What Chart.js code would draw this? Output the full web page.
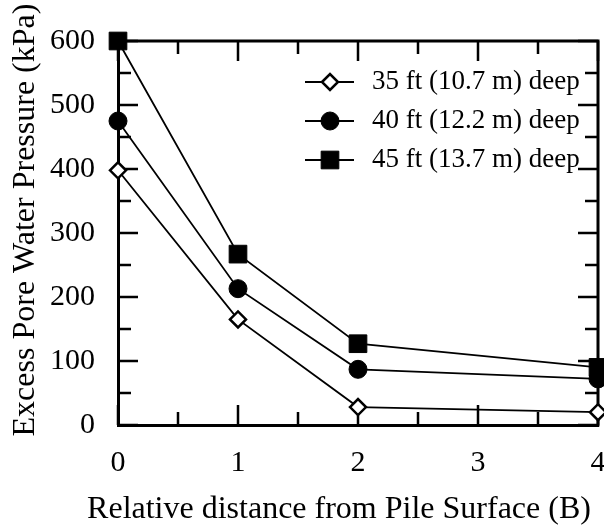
<!DOCTYPE html>
<html>
<head>
<meta charset="utf-8">
<script src="https://cdn.jsdelivr.net/npm/chart.js"></script>
<style>
  html, body { margin: 0; padding: 0; background: #fff; }
  #wrap { width: 604px; height: 527px; }
</style>
</head>
<body>
<div id="wrap"><canvas id="poreChart" width="604" height="527"></canvas></div>
<script>
// distance from pile surface, in pile diameters (B)
const distances = [0, 1, 2, 4];
// excess pore water pressure, kPa
const depth35 = [398, 165, 28, 20];
const depth40 = [475, 213, 87, 72];
const depth45 = [600, 267, 127, 90];

const seriesLabels = ['35 ft (10.7 m) deep', '40 ft (12.2 m) deep', '45 ft (13.7 m) deep'];
const xTicks = [0, 1, 2, 3, 4];
const yTicks = [0, 100, 200, 300, 400, 500, 600];
const xTitle = 'Relative distance from Pile Surface (B)';
const yTitle = 'Excess Pore Water Pressure (kPa)';

const serif = 'Liberation Serif, Times New Roman, serif';

function points(values){
    return distances.map((d, i) => ({x: d, y: values[i]}));
}

const styles = [
    {pointStyle: 'rectRot', radius: 8, bg: '#fff', bw: 2.5},
    {pointStyle: 'circle', radius: 9, bg: '#000', bw: 1},
    {pointStyle: 'rect', radius: 12.5, bg: '#000', bw: 1}
];

const datasets = [depth35, depth40, depth45].map((vals, i) => ({
    label: seriesLabels[i],
    data: points(vals),
    borderColor: '#000',
    borderWidth: 1.8,
    pointStyle: styles[i].pointStyle,
    pointRadius: styles[i].radius,
    pointBackgroundColor: styles[i].bg,
    pointBorderColor: '#000',
    pointBorderWidth: styles[i].bw,
    clip: false,
    order: 3 - i
}));

// inward ticks on all four sides, top/right frame lines and the axis titles
const frameTicks = {
    id: 'frameTicks',
    beforeDatasetsDraw(chart){
        const ctx = chart.ctx;
        const a = chart.chartArea;
        const xs = chart.scales.x, ys = chart.scales.y;
        ctx.save();
        ctx.strokeStyle = '#000';
        ctx.lineCap = 'butt';
        ctx.lineWidth = 3;
        ctx.beginPath();
        ctx.moveTo(a.left - 1.5, a.top);
        ctx.lineTo(a.right, a.top);
        ctx.lineTo(a.right, a.bottom + 1.5);
        ctx.stroke();

        ctx.lineWidth = 2.5;
        ctx.beginPath();
        for(let v = 0; v <= 600; v += 50){
            const len = v % 100 === 0 ? 20 : 13;
            const y = ys.getPixelForValue(v);
            ctx.moveTo(a.left, y); ctx.lineTo(a.left + len, y);
            ctx.moveTo(a.right, y); ctx.lineTo(a.right - len, y);
        }
        for(let v = 0; v <= 4; v += 0.5){
            const len = v % 1 === 0 ? 20 : 13;
            const x = xs.getPixelForValue(v);
            ctx.moveTo(x, a.bottom); ctx.lineTo(x, a.bottom - len);
            ctx.moveTo(x, a.top); ctx.lineTo(x, a.top + len);
        }
        ctx.stroke();

        ctx.fillStyle = '#000';
        ctx.textAlign = 'center';

        // horizontal title sits a bit left of the plot centre
        ctx.font = '32px ' + serif;
        ctx.textBaseline = 'alphabetic';
        ctx.fillText(xTitle, 339, 518);

        // vertical title, a little above the plot middle
        ctx.textBaseline = 'middle';
        ctx.translate(26, 220);
        ctx.rotate(-Math.PI / 2);
        ctx.fillText(yTitle, 0, 0);
        ctx.restore();
    }
};

// legend: short line with the marker on it, then the label
const lineLegend = {
    id: 'lineLegend',
    afterDraw(chart){
        const ctx = chart.ctx;
        const rows = [82, 121, 160];
        ctx.save();
        chart.data.datasets.forEach((ds, i) => {
            const y = rows[i];
            ctx.strokeStyle = '#000';
            ctx.lineWidth = 1.8;
            ctx.beginPath();
            ctx.moveTo(305, y); ctx.lineTo(354, y);
            ctx.stroke();
            ctx.fillStyle = ds.pointBackgroundColor;
            ctx.lineWidth = ds.pointBorderWidth;
            Chart.helpers.drawPoint(ctx, {
                pointStyle: ds.pointStyle,
                radius: ds.pointRadius,
                borderWidth: ds.pointBorderWidth,
                rotation: 0
            }, 330, y);
            ctx.fillStyle = '#000';
            ctx.font = '27px ' + serif;
            ctx.textAlign = 'left';
            ctx.textBaseline = 'alphabetic';
            ctx.fillText(ds.label, 372, y + 6.5);
        });
        ctx.restore();
    }
};

new Chart(document.getElementById('poreChart'), {
    type: 'line',
    data: {datasets: datasets},
    options: {
        responsive: false,
        animation: false,
        // markers at x = 4 run off the canvas edge, so no automatic padding
        layout: {autoPadding: false, padding: {top: 41, right: 6, left: 0, bottom: 0}},
        plugins: {legend: {display: false}, tooltip: {enabled: false}},
        scales: {
            x: {
                type: 'linear',
                min: 0,
                max: 4,
                afterBuildTicks: s => { s.ticks = xTicks.map(v => ({value: v})); },
                afterFit: s => { s.height = 102; s.paddingLeft = 0; s.paddingRight = 0; },
                ticks: {color: '#000', font: {family: serif, size: 30}, padding: 20, maxRotation: 0},
                grid: {drawOnChartArea: false, drawTicks: false},
                border: {display: true, color: '#000', width: 3}
            },
            y: {
                min: 0,
                max: 600,
                afterBuildTicks: s => { s.ticks = yTicks.map(v => ({value: v})); },
                afterFit: s => { s.width = 118; s.paddingTop = 0; s.paddingBottom = 0; },
                ticks: {color: '#000', font: {family: serif, size: 30}, padding: 23},
                grid: {drawOnChartArea: false, drawTicks: false},
                border: {display: true, color: '#000', width: 3}
            }
        }
    },
    plugins: [frameTicks, lineLegend]
});
</script>
</body>
</html>
